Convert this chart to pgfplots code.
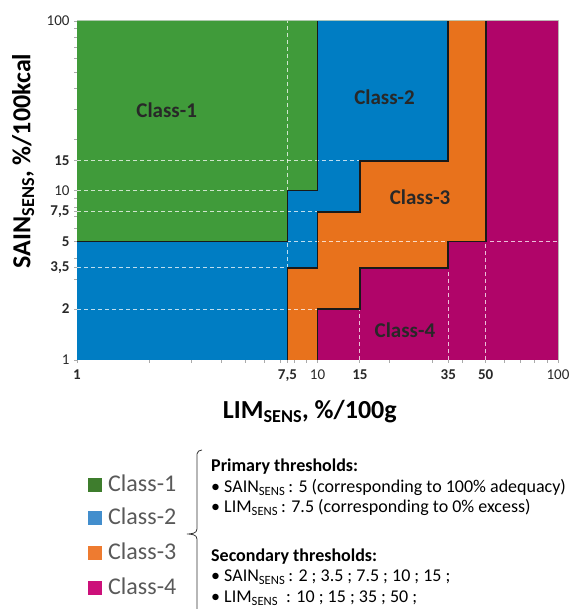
\documentclass[border=0pt]{standalone}
\usepackage{pgfplots}
\pgfplotsset{compat=1.18}
\usepackage{fontspec}
\setmainfont{Carlito}
\definecolor{c1}{RGB}{64,155,58}
\definecolor{c2}{RGB}{0,125,195}
\definecolor{c3}{RGB}{232,114,28}
\definecolor{c4}{RGB}{176,5,105}
\definecolor{l1}{RGB}{62,125,45}
\definecolor{l2}{RGB}{66,142,205}
\definecolor{l3}{RGB}{238,123,48}
\definecolor{l4}{RGB}{204,16,122}
\definecolor{leggray}{RGB}{89,89,89}
\definecolor{axisgray}{RGB}{190,208,190}
\definecolor{tickgray}{RGB}{170,170,170}
\definecolor{labelc}{RGB}{40,40,40}
\newcommand{\sens}{\textsubscript{SENS}}
\begin{document}
\begin{tikzpicture}[x=1pt,y=1pt]
\useasboundingbox (0,0) rectangle (574,609);
\begin{axis}[
  at={(77pt,249pt)}, anchor=south west,
  scale only axis, width=481pt, height=339pt,
  xmode=log, ymode=log, xmin=1, xmax=100, ymin=1, ymax=100,
  axis line style={draw=axisgray, line width=1pt},
  xtick={1,7.5,10,15,35,50,100},
  xticklabels={\textbf{1},{\textbf{7,5}},10,\textbf{15},\textbf{35},\textbf{50},100},
  ytick={1,2,3.5,5,7.5,10,15,100},
  yticklabels={1,\textbf{2},{\textbf{3,5}},\textbf{5},{\textbf{7,5}},10,\textbf{15},100},
  minor xtick={2,3,4,5,6,7,8,9,20,30,40,60,70,80,90},
  minor ytick={3,4,6,7,8,9,20,30,40,50,60,70,80,90},
  tick pos=left, tick align=outside,
  major tick length=3pt, minor tick length=3pt,
  tick style={draw=tickgray, line width=0.8pt},
  ticklabel style={font=\fontsize{15}{17}\selectfont, text=labelc},
  xticklabel style={yshift=-3pt},
  yticklabel style={xshift=-1pt},
  xlabel={\textbf{LIM\sens, \%/100g}},
  ylabel={\textbf{SAIN\sens, \%/100kcal}},
  xlabel style={at={(axis description cs:0.484,-0.153)}, anchor=center, font=\fontsize{26}{30}\selectfont, text=black},
  ylabel style={at={(axis description cs:-0.112,0.587)}, anchor=center, font=\fontsize{26}{30}\selectfont, text=black},
  clip=true,
]
% class regions
\addplot[fill=c1, draw=none] coordinates {(1,5) (7.5,5) (7.5,10) (10,10) (10,100) (1,100) (1,5)};
\addplot[fill=c2, draw=none] coordinates {(1,1) (7.5,1) (7.5,3.5) (10,3.5) (10,7.5) (15,7.5) (15,15) (35,15) (35,100) (10,100) (10,10) (7.5,10) (7.5,5) (1,5) (1,1)};
\addplot[fill=c3, draw=none] coordinates {(7.5,1) (10,1) (10,2) (15,2) (15,3.5) (35,3.5) (35,5) (50,5) (50,100) (35,100) (35,15) (15,15) (15,7.5) (10,7.5) (10,3.5) (7.5,3.5) (7.5,1)};
\addplot[fill=c4, draw=none] coordinates {(10,1) (100,1) (100,100) (50,100) (50,5) (35,5) (35,3.5) (15,3.5) (15,2) (10,2) (10,1)};
% dashed threshold lines
\pgfplotsset{dgrid/.style={draw=white, draw opacity=0.75, line width=0.9pt, dash pattern=on 4pt off 3pt}}
\addplot[dgrid] coordinates {(1,15) (15,15)};
\addplot[dgrid] coordinates {(1,10) (7.5,10)};
\addplot[dgrid] coordinates {(1,7.5) (10,7.5)};
\addplot[dgrid] coordinates {(1,3.5) (7.5,3.5)};
\addplot[dgrid] coordinates {(1,2) (10,2)};
\addplot[dgrid] coordinates {(7.5,5) (100,5)};
\addplot[dgrid] coordinates {(7.5,3.5) (7.5,100)};
\addplot[dgrid] coordinates {(15,1) (15,2)};
\addplot[dgrid] coordinates {(35,1) (35,3.5)};
\addplot[dgrid] coordinates {(50,1) (50,5)};
% class boundaries
\pgfplotsset{bnd/.style={draw=black!90, line width=1.8pt, line join=miter}}
\addplot[bnd] coordinates {(1,5) (7.5,5) (7.5,10) (10,10) (10,100)};
\addplot[bnd] coordinates {(7.5,1) (7.5,3.5) (10,3.5) (10,7.5) (15,7.5) (15,15) (35,15) (35,100)};
\addplot[bnd] coordinates {(10,1) (10,2) (15,2) (15,3.5) (35,3.5) (35,5) (50,5) (50,100)};
% class labels
\node[font=\fontsize{21}{24}\selectfont\bfseries, text=labelc] at (axis cs:2.36,29.9) {Class-1};
\node[font=\fontsize{21}{24}\selectfont\bfseries, text=labelc] at (axis cs:19.0,35.6) {Class-2};
\node[font=\fontsize{21}{24}\selectfont\bfseries, text=labelc] at (axis cs:26.7,9.16) {Class-3};
\node[font=\fontsize{21}{24}\selectfont\bfseries, text=labelc] at (axis cs:23.1,1.50) {Class-4};
\end{axis}
% legend swatches and names
\fill[l1] (88,117) rectangle (102,131);
\fill[l2] (88,84) rectangle (102,98);
\fill[l3] (88,49) rectangle (102,63);
\fill[l4] (88,14) rectangle (102,28);
\begin{scope}[every node/.style={anchor=base west, inner sep=0pt, text=leggray, font=\fontsize{24}{28}\selectfont}]
\node at (108,117) {Class-1};
\node at (108,84) {Class-2};
\node at (108,49) {Class-3};
\node at (108,14) {Class-4};
\end{scope}
% brace
\draw[line width=0.8pt, black!80] (202,159) to[out=180,in=90] (197,155) -- (197,80) to[out=-90,in=0] (187,75) (187,75) to[out=0,in=90] (197,70) -- (197,-10);
% threshold text
\begin{scope}[every node/.style={anchor=base west, inner sep=0pt, text=black, font=\fontsize{18}{21}\selectfont}]
\node at (211,137) {\textbf{Primary thresholds:}};
\node at (211,116) {• SAIN\sens\,: 5 (corresponding to 100\% adequacy)};
\node at (211,96) {• LIM\sens\,: 7.5 (corresponding to 0\% excess)};
\node at (211,47) {\textbf{Secondary thresholds:}};
\node at (211,27) {• SAIN\sens\,: 2 ; 3.5 ; 7.5 ; 10 ; 15 ;};
\node at (211,6) {• LIM\sens\ \ : 10 ; 15 ; 35 ; 50 ;};
\end{scope}
\end{tikzpicture}
\end{document}
